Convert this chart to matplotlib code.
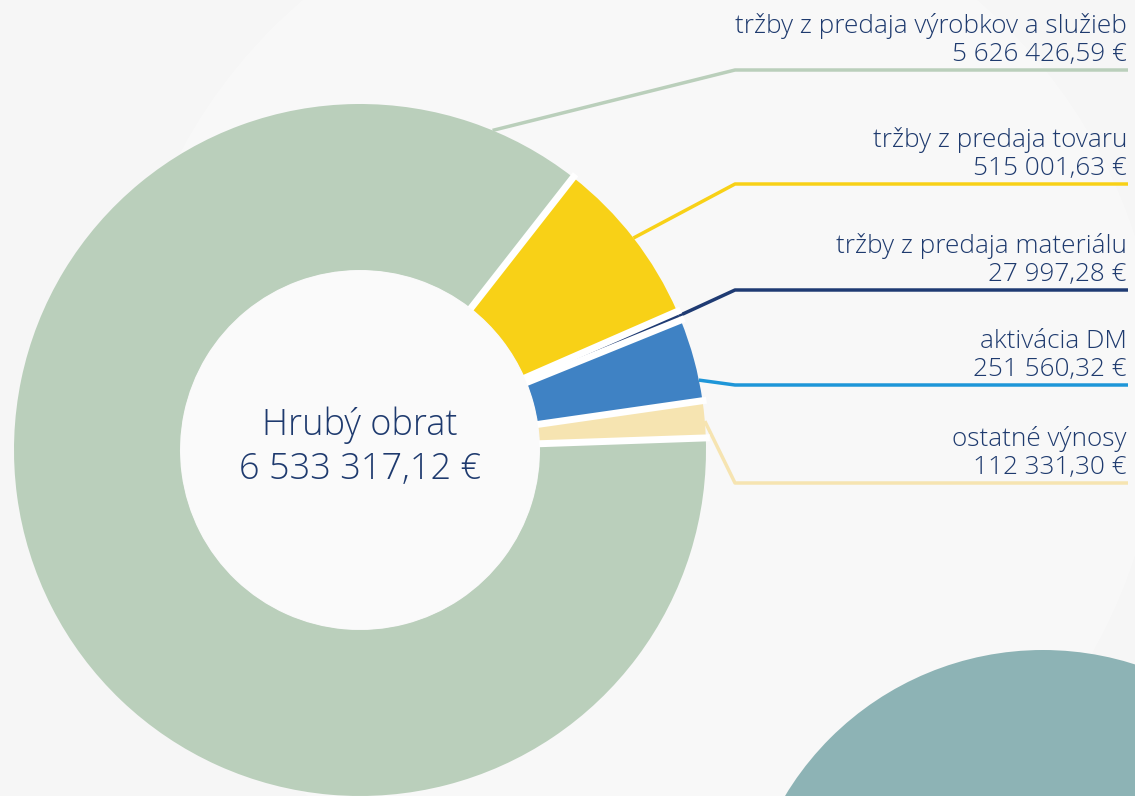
import matplotlib.pyplot as plt
import numpy as np
from matplotlib.patches import Circle
from matplotlib import font_manager

# data (counterclockwise from the right-hand side)
labels = [
    "ostatné výnosy",
    "aktivácia DM",
    "tržby z predaja materiálu",
    "tržby z predaja tovaru",
    "tržby z predaja výrobkov a služieb",
]
values = [112331.30, 251560.32, 27997.28, 515001.63, 5626426.59]
value_texts = ["112 331,30 €", "251 560,32 €", "27 997,28 €", "515 001,63 €", "5 626 426,59 €"]
total_text = "6 533 317,12 €"
title_text = "Hrubý obrat"

colors = ["#f6e4b1", "#3f82c4", "#1f3b73", "#f8d117", "#bacfbb"]
line_colors = ["#f6e4b1", "#1e96d8", "#1f3b73", "#f8d117", "#bacfbb"]
txt_col = "#1e3a6e"

W, H = 1135, 796
names = {f.name for f in font_manager.fontManager.ttflist}
fam = "Open Sans" if "Open Sans" in names else "DejaVu Sans"
plt.rcParams["font.family"] = [fam, "DejaVu Sans"]

fig = plt.figure(figsize=(W / 100, H / 100), dpi=100, facecolor="#f6f6f6")
ax = fig.add_axes([0, 0, 1, 1])

# soft background shapes
ax.add_patch(Circle((640, 400), 520, color="white", alpha=0.3, zorder=0, lw=0))
ax.add_patch(Circle((1043, H - 951), 301, color="#8db3b5", zorder=1, lw=0))

cx, cy, R, r_in = 360, H - 450, 346, 180
wedges, _ = ax.pie(
    values,
    colors=colors,
    startangle=2.0,
    counterclock=True,
    radius=R,
    center=(cx, cy),
    wedgeprops=dict(width=R - r_in, linewidth=0),
    frame=True,
)
ax.set_xlim(0, W)
ax.set_ylim(0, H)
ax.set_aspect("equal")
ax.axis("off")
for wd in wedges:
    wd.set_zorder(2)

# white gaps between slices
for wd in wedges:
    a = np.deg2rad(wd.theta1)
    ax.plot([cx + (r_in - 4) * np.cos(a), cx + (R + 4) * np.cos(a)],
            [cy + (r_in - 4) * np.sin(a), cy + (R + 4) * np.sin(a)],
            color="white", lw=5, zorder=3, solid_capstyle="butt")
ax.add_patch(Circle((cx, cy), r_in - 0.5, color="#fafafa", zorder=3, lw=0))

ax.text(cx, H - 425, title_text, ha="center", va="center", fontsize=26, color=txt_col,
        fontweight="light", zorder=5)
ax.text(cx, H - 470, total_text, ha="center", va="center", fontsize=26, color=txt_col,
        fontweight="light", zorder=5)

# labels with leader lines
line_y = [483, 385, 290, 184, 70]
anchor_frac = [0.45, 0.25, 0.5, 0.5, 0.05]
x_elbow, x_end = 735, 1128
for i, wd in enumerate(wedges):
    ang = np.deg2rad(wd.theta1 + anchor_frac[i] * (wd.theta2 - wd.theta1))
    ax_x = cx + R * np.cos(ang)
    ax_y = cy + R * np.sin(ang)
    ly = H - line_y[i]
    ax.plot([ax_x, x_elbow, x_end], [ax_y, ly, ly], color=line_colors[i], lw=2.5,
            zorder=1.5, solid_capstyle="butt")
    ax.text(x_end - 1, ly + 9, value_texts[i], ha="right", va="baseline", fontsize=18.8,
            color=txt_col, fontweight="light", zorder=5)
    ax.text(x_end - 1, ly + 37, labels[i], ha="right", va="baseline", fontsize=18.8,
            color=txt_col, fontweight="light", zorder=5)

fig.savefig("out.png", dpi=100, facecolor=fig.get_facecolor())
